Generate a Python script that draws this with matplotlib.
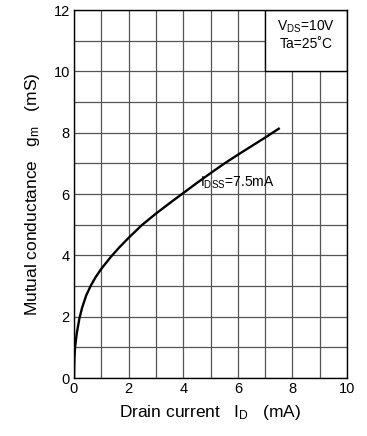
import matplotlib.pyplot as plt
import matplotlib.patches as mpatches
import numpy as np

plt.rcParams['font.family'] = ['Liberation Sans', 'DejaVu Sans']
plt.rcParams['mathtext.fontset'] = 'custom'
plt.rcParams['mathtext.rm'] = 'Liberation Sans'

# gm vs ID
drain_current = [0, 0.005, 0.015, 0.04, 0.1, 0.2, 0.3, 0.45, 0.62, 0.8, 1.0,
                 1.35, 1.65, 2.0, 2.49, 3.0, 3.5, 4.0, 4.5, 5.0, 5.5, 6.0,
                 6.5, 7.0, 7.5]
mutual_cond = [0, 0.35, 0.65, 1.0, 1.45, 1.95, 2.3, 2.7, 3.02, 3.3, 3.56,
               3.95, 4.25, 4.57, 4.99, 5.36, 5.7, 6.03, 6.36, 6.68, 6.99, 7.28,
               7.56, 7.84, 8.13]

x_ticks = [0, 2, 4, 6, 8, 10]
y_ticks = [0, 2, 4, 6, 8, 10, 12]

fig = plt.figure(figsize=(3.67, 4.36), dpi=100)
ax = fig.add_axes([0.2016, 0.133, 0.744, 0.844])

ax.set_xlim(0, 10)
ax.set_ylim(0, 12)
ax.set_xticks(x_ticks)
ax.set_yticks(y_ticks)
ax.set_xticks(np.arange(0, 11, 1), minor=True)
ax.set_yticks(np.arange(0, 13, 1), minor=True)
ax.tick_params(which='both', length=0, labelsize=10.5, pad=3)
ax.grid(which='both', color='#555555', linewidth=0.9)
ax.set_axisbelow(True)
for sp in ax.spines.values():
    sp.set_linewidth(1.0)

ax.add_patch(mpatches.Rectangle((7, 10), 3, 2, facecolor='white',
                                edgecolor='black', linewidth=1.0, zorder=2))
ax.text(8.5, 11.45, r'$\mathregular{V_{DS}}$=10V', ha='center', va='center',
        fontsize=10, zorder=4)
ax.text(8.5, 10.9, 'Ta=25˚C', ha='center', va='center', fontsize=10, zorder=4)

ax.plot(drain_current, mutual_cond, color='black', linewidth=1.7, zorder=3,
        solid_joinstyle='round')
ax.text(4.62, 6.25, r'$\mathregular{I_{DSS}}$=7.5mA', ha='left', va='baseline',
        fontsize=10, zorder=4)

ax.set_xlabel(r'Drain current   $\mathregular{I_D}$   (mA)', fontsize=12.5, labelpad=5)
ax.set_ylabel(r'Mutual conductance   $\mathregular{g_m}$   (mS)', fontsize=12.5, labelpad=8)

fig.savefig('out.png', dpi=100)
